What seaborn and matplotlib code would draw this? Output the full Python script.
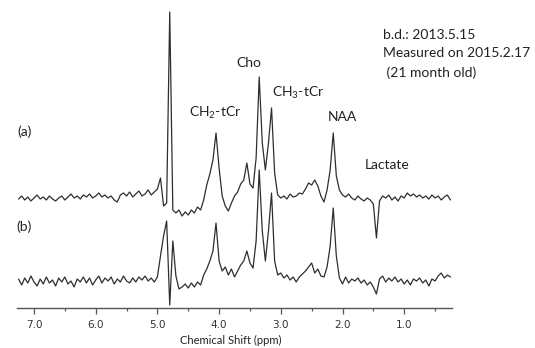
import numpy as np
import pandas as pd
import seaborn as sns
import matplotlib
matplotlib.use("Agg")
import matplotlib.pyplot as plt
from matplotlib.ticker import MultipleLocator, FormatStrFormatter

# spectra sampled every 0.05 ppm, 7.25 ppm down to 0.25 ppm (arbitrary units)
shift_start, shift_end = 7.25, 0.25

# (a) upper trace
spec_a = [
    -1, 2, -2, 1, -3, 0, 3, -1, 1, -2,          # 7.25 .. 6.80
    2, -1, -3, 0, 2, -2, 1, 4, 0, 2,            # 6.75 .. 6.30
    -1, 3, 1, 4, 0, 2, 5, 1, 3, 0,              # 6.25 .. 5.80
    2, -2, -4, 3, 5, 2, 6, 1, 4, 7,             # 5.75 .. 5.30
    2, 4, 8, 3, 6, 9, 20, -8, -5, 186,          # 5.25 .. 4.80
    -12, -15, -12, -18, -14, -17, -12, -15, -9, -12,  # 4.75 .. 4.30
    -2, 13, 24, 38, 65, 30, 2, -8, -13, -5,     # 4.25 .. 3.80
    2, 6, 14, 18, 35, 14, 10, 40, 121, 55,      # 3.75 .. 3.30
    28, 55, 90, 25, 3, 0, 2, -1, 4, 1,          # 3.25 .. 2.80
    2, 5, 4, 9, 15, 13, 18, 12, 2, -4,          # 2.75 .. 2.30
    8, 28, 65, 22, 8, 3, 1, 4, 0, -2,           # 2.25 .. 1.80
    2, -1, -3, 0, -2, -6, -40, -3, 2, 0,        # 1.75 .. 1.30
    3, -2, 1, -3, 2, 0, 5, 2, 4, 1,             # 1.25 .. 0.80
    3, 0, 2, -1, 3, 0, 2, -2, 1, 3,             # 0.75 .. 0.30
    -2,                                         # 0.25
]

# (b) lower trace
spec_b = [
    2, -4, 3, -2, 5, -1, -5, 2, -3, 4,
    -2, 1, -5, 3, -1, 4, -3, 0, -6, 2,
    -1, 4, -2, 3, -4, 1, 5, -2, 3, 0,
    4, -3, 2, -1, 5, 0, -2, 3, -1, 4,
    1, 5, 0, 3, -1, 4, 25, 45, 60, -24,
    40, 5, -8, -6, -3, -7, -2, -6, -1, -4,
    6, 12, 20, 30, 58, 20, 10, 14, 6, 12,
    4, 10, 16, 20, 30, 18, 13, 40, 111, 50,
    20, 50, 88, 20, 6, 8, 3, 6, 1, 4,
    -1, 4, 7, 10, 14, 18, 8, 12, 5, 4,
    14, 35, 73, 25, 3, -3, 4, -2, 2, 0,
    3, -2, 1, -4, -1, -6, -13, 2, 5, -1,
    3, 0, 4, -1, 2, -3, 1, -4, 2, 0,
    3, -2, 1, -5, 2, 0, 5, 8, 3, 6,
    4,
]

offset = 83  # vertical stacking of trace (a) above (b)

ppm = np.round(np.linspace(shift_start, shift_end, len(spec_a)), 2)
df = pd.DataFrame({
    "ppm": np.concatenate([ppm, ppm]),
    "signal": np.concatenate([np.array(spec_a) + offset, np.array(spec_b)]),
    "scan": ["a"] * len(ppm) + ["b"] * len(ppm),
})

sns.set_theme(style="white")
plt.rcParams["font.family"] = ["Lato", "DejaVu Sans"]
plt.rcParams["mathtext.default"] = "regular"

W, H = 535, 348
fig = plt.figure(figsize=(W / 100, H / 100), dpi=100)
ax = fig.add_axes([17 / W, 1 - 308 / H, (452 - 17) / W, 308 / H])

sns.lineplot(data=df, x="ppm", y="signal", hue="scan", estimator=None,
             palette=["#2e2e2e", "#2e2e2e"], linewidth=0.9, legend=False, ax=ax)

ax.set_xlim(7.2755, 0.2253)
ax.set_ylim(-27, 281)
for s in ["left", "top", "right"]:
    ax.spines[s].set_visible(False)
ax.spines["bottom"].set_color("#555555")
ax.spines["bottom"].set_linewidth(1.0)
ax.set_yticks([])
ax.set_ylabel("")
ax.set_xlabel("")
ax.xaxis.set_major_locator(MultipleLocator(1.0))
ax.xaxis.set_minor_locator(MultipleLocator(0.5))
ax.xaxis.set_major_formatter(FormatStrFormatter("%.1f"))
ax.tick_params(axis="x", which="major", direction="out", length=4.3, width=0.9,
               color="#555555", labelsize=7.5, labelcolor="#333333", pad=4,
               bottom=True)
ax.tick_params(axis="x", which="minor", direction="out", length=2.3, width=0.9,
               color="#555555", bottom=True)
for lab in ax.get_xticklabels():
    lab.set_family("DejaVu Sans")


def put(x, y, s, **kw):
    kw.setdefault("ha", "center")
    kw.setdefault("va", "center")
    kw.setdefault("fontsize", 10)
    kw.setdefault("color", "#222222")
    fig.text(x / W, 1 - y / H, s, **kw)


put(231, 340, "Chemical Shift (ppm)", fontsize=8)
put(248.5, 63, "Cho")
put(215, 113, "CH$_2$-tCr")
put(298, 93, "CH$_3$-tCr")
put(342, 117, "NAA")
put(387.5, 165, "Lactate")
put(24.5, 132, "(a)")
put(24.5, 227, "(b)")
put(383, 35, "b.d.: 2013.5.15", ha="left")
put(383, 53, "Measured on 2015.2.17", ha="left")
put(383, 73, " (21 month old)", ha="left")

fig.savefig("out.png", dpi=100, facecolor="white")
